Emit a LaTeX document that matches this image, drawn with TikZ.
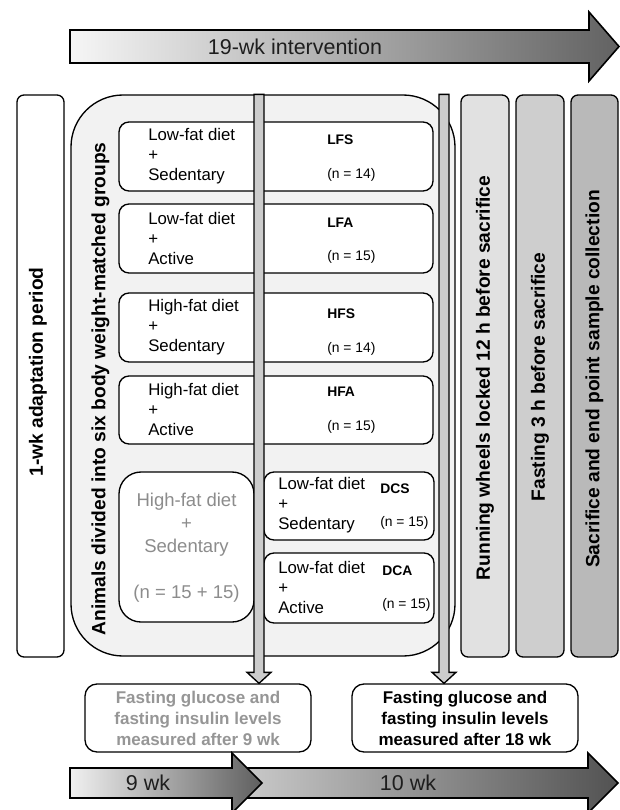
\documentclass[tikz,border=0pt]{standalone}
\usepackage{fontspec}
\setmainfont{Liberation Sans}
\usetikzlibrary{calc,fit}
\definecolor{frame}{RGB}{242,242,242}
\definecolor{toplight}{RGB}{246,246,246}
\definecolor{topdark}{RGB}{98,98,98}
\definecolor{ninelight}{RGB}{240,240,240}
\definecolor{ninedark}{RGB}{95,95,95}
\definecolor{tenlight}{RGB}{205,205,205}
\definecolor{tendark}{RGB}{82,82,82}

\begin{document}
\begin{tikzpicture}[x=0.75pt,y=0.75pt,yscale=-1,xscale=1,
	box/.style={draw, line width=1pt, inner sep=0pt, rounded corners=7.5pt},
	bar/.style={box, rounded corners=5.25pt},
	vbar/.style={draw, line width=1pt, fill={rgb, 255:red, 204; green, 204; blue, 204}},
	bigarrow/.style={draw, line width=1.2pt},
	grptxt/.style={font=\fontsize{12.6pt}{15pt}\selectfont, align=left, anchor=west, inner sep=0pt},
	codetxt/.style={font=\fontsize{10.4pt}{12pt}\selectfont\bfseries, anchor=west, inner sep=0pt},
	ntxt/.style={font=\fontsize{10.4pt}{12pt}\selectfont, anchor=west, inner sep=0pt},
	vtxt/.style={font=\fontsize{14.4pt}{17pt}\selectfont\bfseries, rotate=90, inner sep=0pt},
	arrtxt/.style={font=\fontsize{16.1pt}{19pt}\selectfont, text={rgb, 255:red, 30; green, 30; blue, 30}, inner sep=0pt},
	meastxt/.style={font=\fontsize{12.75pt}{15.75pt}\selectfont\bfseries, align=center, inner sep=0pt}]
\useasboundingbox (0,0) rectangle (619,810);

% intervention arrow
\draw[bigarrow, left color=toplight, right color=topdark] (70,30) -- (589,30) -- (589,12) -- (619,46.5) -- (589,81) -- (589,63) -- (70,63) -- cycle;
\node[arrtxt] (interv) at (295,47) {19-wk intervention};

% adaptation and groups
\node[bar, fill=white, fit={(17,95) (64,657)}] (adapt) {};
\node[vtxt] (adaptL) at (38,372) {1-wk adaptation period};
\node[box, rounded corners=39pt, fill=frame, fit={(71,95) (455,656)}] (groups) {};
\node[vtxt] (groupsL) at (100.5,389) {Animals divided into six body weight-matched groups};

\node[box, fill=white, fit={(119,122) (433,191)}] (lfs) {};
\node[grptxt] (lfsL) at (148,156.5) {Low-fat diet\\+\\Sedentary};
\node[codetxt] (lfsC) at (327,140) {LFS};
\node[ntxt] (lfsN) at (327,175) {(n = 14)};

\node[box, fill=white, fit={(119,204) (433,273)}] (lfa) {};
\node[grptxt] (lfaL) at (148,238.5) {Low-fat diet\\+\\Active};
\node[codetxt] (lfaC) at (327,223) {LFA};
\node[ntxt] (lfaN) at (327,257) {(n = 15)};

\node[box, fill=white, fit={(119,293) (433,362)}] (hfs) {};
\node[grptxt] (hfsL) at (148,327.5) {High-fat diet\\+\\Sedentary};
\node[codetxt] (hfsC) at (327,314) {HFS};
\node[ntxt] (hfsN) at (327,349) {(n = 14)};

\node[box, fill=white, fit={(119,376) (433,444)}] (hfa) {};
\node[grptxt] (hfaL) at (148,409.5) {High-fat diet\\+\\Active};
\node[codetxt] (hfaC) at (327,392) {HFA};
\node[ntxt] (hfaN) at (327,427) {(n = 15)};

\node[box, rounded corners=16.5pt, fill=white, fit={(119,472) (254,622)}] (hfd) {};
\node[font=\fontsize{13.9pt}{17.25pt}\selectfont, align=center, inner sep=0pt, text={rgb, 255:red, 140; green, 140; blue, 140}] (hfdL) at (186.5,548) {High-fat diet\\+\\Sedentary\\[17.25pt](n = 15 + 15)};

\node[box, fill=white, fit={(264,472) (434,540)}] (dcs) {};
\node[grptxt] (dcsL) at (278,505) {Low-fat diet\\+\\Sedentary};
\node[codetxt] (dcsC) at (380,489) {DCS};
\node[ntxt] (dcsN) at (380,523) {(n = 15)};

\node[box, fill=white, fit={(264,553) (434,623)}] (dca) {};
\node[grptxt] (dcaL) at (278,587) {Low-fat diet\\+\\Active};
\node[codetxt] (dcaC) at (382,571) {DCA};
\node[ntxt] (dcaN) at (382,605) {(n = 15)};

% end of study
\node[bar, fill={rgb, 255:red, 225; green, 225; blue, 225}, fit={(461,95) (509,657)}] (wheels) {};
\node[vtxt] (wheelsL) at (485,378) {Running wheels locked 12 h before sacrifice};
\node[bar, fill={rgb, 255:red, 206; green, 206; blue, 206}, fit={(516,95) (564,657)}] (fast) {};
\node[vtxt] (fastL) at (540,377) {Fasting 3 h before sacrifice};
\node[bar, fill={rgb, 255:red, 185; green, 185; blue, 185}, fit={(571,95) (618,657)}] (sacr) {};
\node[vtxt] (sacrL) at (594.5,379) {Sacrifice and end point sample collection};

% measurements
\node[box, rounded corners=9pt, fill=white, fit={(85,684) (311,752)}] (m9) {};
\node[meastxt, text={rgb, 255:red, 150; green, 150; blue, 150}] (m9L) at (m9) {Fasting glucose and\\fasting insulin levels\\measured after 9 wk};
\node[box, rounded corners=9pt, fill=white, fit={(352,684) (578,752)}] (m18) {};
\node[meastxt] (m18L) at (m18) {Fasting glucose and\\fasting insulin levels\\measured after 18 wk};

\foreach \ax/\tgt in {259/m9, 444/m18}
	\draw[vbar] let \p1=(\ax,0 |- \tgt.north), \p2=(\ax,0 |- groups.north) in
		(\x2-3.75pt,\y2) -- (\x2+3.75pt,\y2) -- (\x1+3.75pt,\y1-8.25pt) -- (\x1+9pt,\y1-8.25pt) -- (\x1,\y1) -- (\x1-9pt,\y1-8.25pt) -- (\x1-3.75pt,\y1-8.25pt) -- cycle;

% timeline
\draw[bigarrow, left color=tenlight, right color=tendark] (232,768) -- (588,768) -- (588,753) -- (618,783) -- (588,813) -- (588,798) -- (232,798) -- cycle;
\draw[bigarrow, left color=ninelight, right color=ninedark] (70,768) -- (232,768) -- (232,753) -- (262,783) -- (232,813) -- (232,798) -- (70,798) -- cycle;
\node[arrtxt] (wk9) at (148,783) {9 wk};
\node[arrtxt] (wk10) at (408,783) {10 wk};
\end{tikzpicture}
\end{document}
